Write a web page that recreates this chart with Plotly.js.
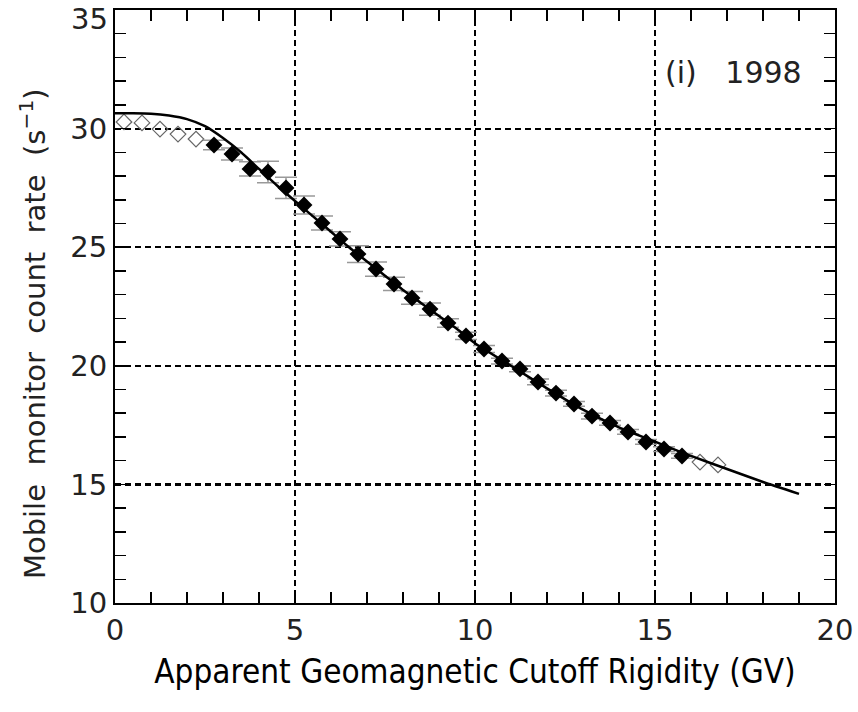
<!DOCTYPE html>
<html><head><meta charset="utf-8">
<script src="https://cdn.plot.ly/plotly-3.0.1.min.js"></script>
<style>body{margin:0;background:#fff}#c{width:858px;height:712px}</style>
</head><body><div id="c"></div>
<script>
const openLowX = [0.25, 0.75, 1.25, 1.75, 2.25];
const openLowY = [30.28, 30.24, 29.98, 29.77, 29.56];
const openHighX = [16.25, 16.75];
const openHighY = [15.94, 15.82];
const filledX = [2.75,3.25,3.75,4.25,4.75,5.25,5.75,6.25,6.75,7.25,7.75,8.25,8.75,9.25,9.75,10.25,10.75,11.25,11.75,12.25,12.75,13.25,13.75,14.25,14.75,15.25,15.75];
const filledY = [29.31,28.93,28.30,28.17,27.50,26.78,26.02,25.35,24.71,24.08,23.45,22.86,22.39,21.80,21.26,20.71,20.20,19.87,19.32,18.85,18.39,17.88,17.59,17.21,16.79,16.49,16.20];
const filledErr = [0.2,0.25,0.3,0.45,0.45,0.38,0.3,0.3,0.35,0.3,0.28,0.27,0.26,0.18,0.15,0.15,0.12,0.12,0.12,0.12,0.1,0.12,0.1,0.1,0.1,0.1,0.1];
const fitX = [0,0.5,1,1.5,2,2.5,3,3.5,4,4.5,5,5.5,6,6.5,7,7.5,8,8.5,9,9.5,10,11,12,13,14,15,16,17,18,19];
const fitY = [30.65,30.65,30.63,30.55,30.4,30.1,29.6,29.0,28.3,27.6,26.95,26.3,25.65,25.0,24.4,23.8,23.2,22.65,22.1,21.55,20.95,20.0,19.05,18.15,17.4,16.8,16.2,15.65,15.1,14.6];
const xTicks = [0,5,10,15,20];
const yTicks = [10,15,20,25,30];
const yTopTick = 35;
const label = "(i)&nbsp;&nbsp;&nbsp;1998";
const yTitle = 'Mobile&nbsp; monitor&nbsp; count&nbsp; rate&nbsp; (s<sup>\u22121</sup>)';

const openMarker = {symbol:'diamond-open', size:12, color:'#666', line:{width:1.2}};
const traces = [
  {x:openLowX, y:openLowY, type:'scatter', mode:'markers', marker:openMarker, hoverinfo:'skip'},
  {x:openHighX, y:openHighY, type:'scatter', mode:'markers', marker:openMarker, hoverinfo:'skip'},
  {x:filledX, y:filledY, type:'scatter', mode:'markers',
   marker:{symbol:'diamond', size:13, color:'#000'},
   error_y:{type:'data', array:filledErr, visible:true, color:'#999', thickness:1.5, width:11}},
  {x:fitX, y:fitY, type:'scatter', mode:'lines', line:{color:'#000', width:2.5, shape:'spline', smoothing:0.6}}
];
const tickFont = {family:'DejaVu Sans', size:29, color:'#222'};
const axisCommon = {
  showline:true, linecolor:'#000', linewidth:2, mirror:'ticks',
  ticks:'inside', ticklen:11, tickwidth:1.5, tickcolor:'#000',
  showgrid:true, gridcolor:'#000', gridwidth:2.2, griddash:'6px,4px',
  zeroline:false, tickfont:tickFont, ticklabeloverflow:'allow',
  minor:{dtick:1, ticks:'inside', ticklen:11, tickwidth:1.5, tickcolor:'#000', showgrid:false}
};
const layout = {
  width:858, height:712, showlegend:false,
  paper_bgcolor:'#fff', plot_bgcolor:'#fff',
  margin:{l:115, r:23, t:10, b:109},
  xaxis:Object.assign({}, axisCommon, {range:[0,20], tickvals:xTicks, ticktext:xTicks.map(String),
    title:{text:'Apparent Geomagnetic Cutoff Rigidity (GV)', font:{family:'DejaVu Sans Condensed, Roboto Condensed, Roboto, sans-serif', size:33, color:'#000'}, standoff:14}}),
  yaxis:Object.assign({}, axisCommon, {range:[10,35], tickvals:yTicks, ticktext:yTicks.map(String)}),
  annotations:[
    {x:19.15, y:32.35, xref:'x', yref:'y', xanchor:'right', yanchor:'middle', showarrow:false,
     text:label, font:{family:'DejaVu Sans', size:30, color:'#222'}},
    {x:0, y:yTopTick, xref:'paper', yref:'y', xanchor:'right', yanchor:'top', xshift:-5, yshift:10, showarrow:false,
     text:String(yTopTick), font:tickFont},
    {x:-0.114, y:0.455, xref:'paper', yref:'paper', xanchor:'center', yanchor:'middle', textangle:-90, showarrow:false,
     text:yTitle, font:{family:'DejaVu Sans', size:29, color:'#222'}}
  ]
};
Plotly.newPlot('c', traces, layout, {displayModeBar:false, staticPlot:true});
</script></body></html>
